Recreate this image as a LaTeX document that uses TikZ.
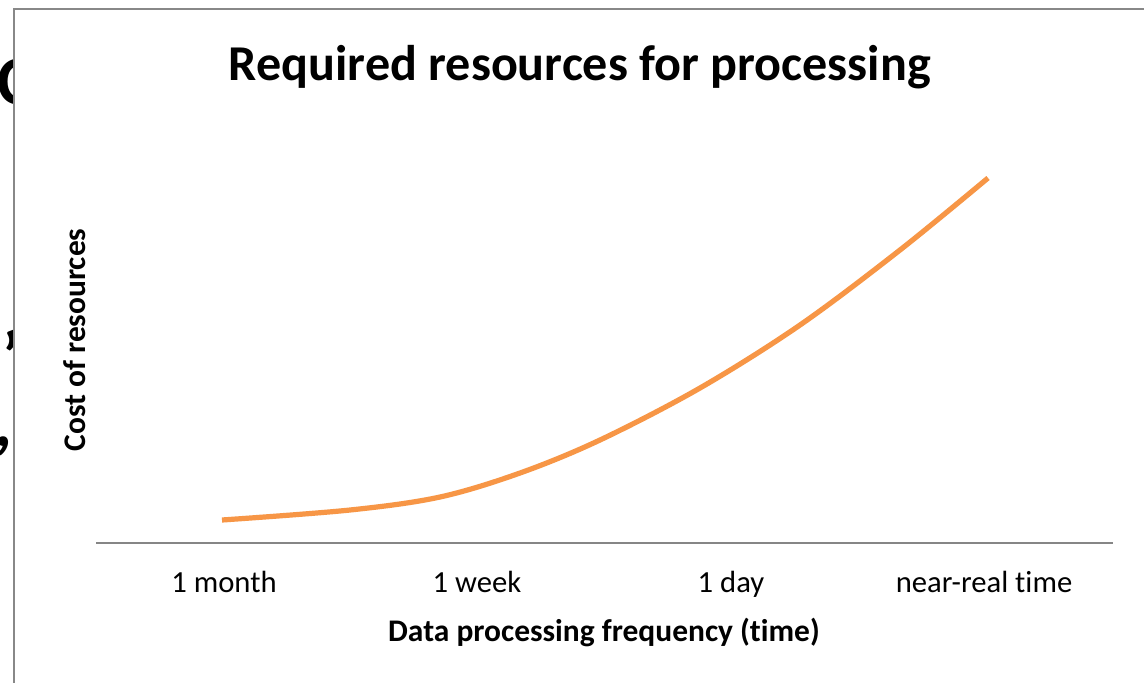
\documentclass[tikz,border=0pt]{standalone}
\usepackage{fontspec}
\setmainfont{Carlito}[Ligatures=NoCommon]
\definecolor{curveorange}{HTML}{F79646}
\definecolor{framegray}{HTML}{888888}
\definecolor{axisgray}{HTML}{868686}
\tikzset{
  ticklabel/.style={font=\fontsize{23}{27}\selectfont, anchor=base, text=black, inner sep=0pt},
  axtitle/.style={font=\fontsize{23.6}{28}\selectfont\bfseries, anchor=base, inner sep=0pt},
  charttitle/.style={font=\fontsize{37.6}{42}\selectfont\bfseries, anchor=base, inner sep=0pt},
  behind/.style={font=\fontsize{52}{60}\selectfont\bfseries, inner sep=0pt}
}
\begin{document}
\begin{tikzpicture}[x=0.75pt,y=-0.75pt]
\useasboundingbox (0,0) rectangle (1144,682);
\fill[white] (0,0) rectangle (1144,682);
% fragments of text behind the chart
\begin{scope}
\clip (0,0) rectangle (13,682);
\node[behind, anchor=base west] (fragC) at (-3,104) {C};
\node[behind, anchor=base west] (fragS) at (2,380) {’};
\node[behind, anchor=base west] (fragComma) at (-6,446) {,};
\end{scope}
% frame
\draw[framegray, line width=2pt] (14,690) -- (14,9) -- (1150,9);
% title
\node[charttitle] (title) at (580,80) {Required resources for processing};
% axis
\coordinate (axL) at (96,543);
\coordinate (axR) at (1113,543);
\draw[axisgray, line width=1.6pt] (axL) -- (axR);
% tick labels
\node[ticklabel] (t1) at (224,592) {1 month};
\node[ticklabel] (t2) at (477,592) {1 week};
\node[ticklabel] (t3) at (731,592) {1 day};
\node[ticklabel] (t4) at (984,592) {near-real time};
% axis titles
\node[axtitle] (xtitle) at (604,641) {Data processing frequency (time)};
\node[axtitle, rotate=90, anchor=center] (ytitle) at (75,340) {Cost of resources};
% curve
\draw[curveorange, line width=3.9pt, line cap=butt]
  plot[smooth, tension=0.55] coordinates {(222,520) (350,510) (440,497) (520,473) (600,440) (700,388) (800,325) (900,250) (988,178)};
\end{tikzpicture}
\end{document}
